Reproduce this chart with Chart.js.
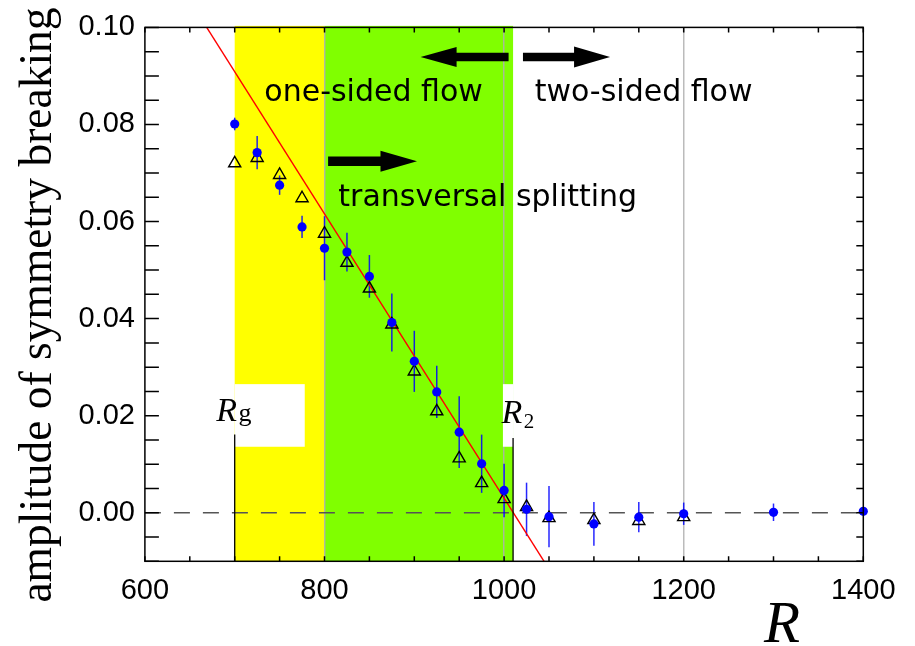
<!DOCTYPE html>
<html><head><meta charset="utf-8">
<script src="https://cdn.jsdelivr.net/npm/chart.js@4.4.0/dist/chart.umd.min.js"></script>
<style>html,body{margin:0;padding:0;background:#fff}</style>
</head><body>
<canvas id="c" width="915" height="646"></canvas>
<script>
// ---- data ----
const R_dots   = [700, 725, 750, 775, 800, 825, 850, 875, 900, 925, 950, 975, 1000, 1025, 1050, 1100, 1150, 1200, 1300, 1400];
const amp_dots = [0.0801, 0.0742, 0.0675, 0.0589, 0.0545, 0.0537, 0.0487, 0.0392, 0.0312, 0.0249, 0.0166, 0.0101, 0.0046, 0.0007, -0.0008, -0.0023, -0.0009, -0.0002, 0.0001, 0.0003];
const err_dots = [0.0013, 0.0034, 0.0020, 0.0023, 0.0066, 0.0040, 0.0044, 0.0060, 0.0063, 0.0054, 0.0074, 0.0060, 0.0055, 0.0055, 0.0063, 0.0045, 0.0031, 0.0023, 0.0018, 0];
const R_tri    = [700, 725, 750, 775, 800, 825, 850, 875, 900, 925, 950, 975, 1000, 1025, 1050, 1100, 1150, 1200];
const amp_tri  = [0.0720, 0.0731, 0.0696, 0.0648, 0.0575, 0.0515, 0.0462, 0.0388, 0.0291, 0.0209, 0.0112, 0.0061, 0.0028, 0.0012, -0.0011, -0.0015, -0.0017, -0.0009];
const R_fit    = [668.8, 1044.5];
const amp_fit  = [0.100, -0.010];
const xTicksMajor = [600, 800, 1000, 1200, 1400];
const yTicksMajor = [0.00, 0.02, 0.04, 0.06, 0.08, 0.10];
const bandFrom = [700, 800];
const bandTo   = [800, 1010];
const markR    = [700, 1010];
const markTop  = [0.0161, 0.0154];
const arrowFrom = [1005, 1021, 804];
const arrowTo   = [907, 1118, 903];
const arrowAmp  = [0.0939, 0.0939, 0.0724];
const noteText = ['one-sided flow', 'two-sided flow', 'transversal splitting'];
const noteR    = [733, 1034, 815.4];
const noteAmp  = [0.0849, 0.0849, 0.0631];
const xTitle = 'R';
const yTitle = 'amplitude of symmetry breaking';

const pts = (xs, ys) => xs.map((x, i) => ({x: x, y: ys[i]}));

const decor = {
  id: 'decor',
  beforeDraw(chart) {
    const {ctx, chartArea: ca, scales: {x, y}} = chart;
    ctx.save();
    const cols = ['#ffff00', '#80ff00'];
    for (let i = 0; i < bandFrom.length; i++) {
      const a = x.getPixelForValue(bandFrom[i]), b = x.getPixelForValue(bandTo[i]);
      ctx.fillStyle = cols[i];
      ctx.fillRect(a, ca.top - 1.5, b - a, ca.bottom - ca.top + 1.5);
    }
    ctx.restore();
  },
  beforeDatasetsDraw(chart) {
    const {ctx, chartArea: ca, scales: {x, y}} = chart;
    ctx.save();
    // white label boxes
    ctx.fillStyle = '#fff';
    const bx = [[700, 778], [998.7, 1010.5]];
    const t = y.getPixelForValue(0.0265), btm = y.getPixelForValue(0.0136);
    bx.forEach(([a, b]) => {
      const pa = x.getPixelForValue(a), pb = x.getPixelForValue(b);
      ctx.fillRect(pa, t, pb - pa, btm - t);
    });
    // dashed zero line
    ctx.strokeStyle = '#555';
    ctx.lineWidth = 1.3;
    ctx.setLineDash([16, 13]);
    const y0 = y.getPixelForValue(0);
    ctx.beginPath(); ctx.moveTo(ca.left, y0); ctx.lineTo(ca.right, y0); ctx.stroke();
    ctx.setLineDash([]);
    // error bars
    ctx.strokeStyle = 'rgba(0,0,255,0.85)';
    ctx.lineWidth = 1.5;
    for (let i = 0; i < R_dots.length; i++) {
      if (!err_dots[i]) continue;
      const px = x.getPixelForValue(R_dots[i]);
      ctx.beginPath();
      ctx.moveTo(px, y.getPixelForValue(amp_dots[i] - err_dots[i]));
      ctx.lineTo(px, y.getPixelForValue(amp_dots[i] + err_dots[i]));
      ctx.stroke();
    }
    ctx.restore();
  },
  afterDatasetsDraw(chart) {
    const {ctx, chartArea: ca, scales: {x, y}} = chart;
    ctx.save();
    // vertical marker lines
    ctx.strokeStyle = '#000';
    ctx.lineWidth = 1.3;
    for (let i = 0; i < markR.length; i++) {
      const px = x.getPixelForValue(markR[i]);
      ctx.beginPath(); ctx.moveTo(px, y.getPixelForValue(markTop[i])); ctx.lineTo(px, ca.bottom); ctx.stroke();
    }
    // arrows
    ctx.fillStyle = '#000';
    const shaft = [8.5, 8.5, 9.5], headH = [20, 21, 21], headL = [36, 36, 36.5];
    for (let i = 0; i < arrowFrom.length; i++) {
      const x0 = x.getPixelForValue(arrowFrom[i]), x1 = x.getPixelForValue(arrowTo[i]);
      const yc = y.getPixelForValue(arrowAmp[i]);
      const dir = Math.sign(x1 - x0);
      const hb = x1 - dir * headL[i];
      ctx.beginPath();
      ctx.moveTo(x0, yc - shaft[i] / 2);
      ctx.lineTo(hb, yc - shaft[i] / 2);
      ctx.lineTo(hb, yc - headH[i] / 2);
      ctx.lineTo(x1, yc);
      ctx.lineTo(hb, yc + headH[i] / 2);
      ctx.lineTo(hb, yc + shaft[i] / 2);
      ctx.lineTo(x0, yc + shaft[i] / 2);
      ctx.closePath();
      ctx.fill();
    }
    // notes
    ctx.font = '30px "DejaVu Sans"';
    ctx.textAlign = 'left';
    ctx.textBaseline = 'alphabetic';
    for (let i = 0; i < noteText.length; i++) {
      ctx.fillText(noteText[i], x.getPixelForValue(noteR[i]), y.getPixelForValue(noteAmp[i]));
    }
    // R_g and R_2 labels
    const lab = [[679.5, 0.01886, 'g', '26px "Liberation Serif"', 0], [997.2, 0.0185, '2', '21px "Liberation Serif"', 5]];
    lab.forEach(([rv, av, sub, subFont, dy]) => {
      const px = x.getPixelForValue(rv), py = y.getPixelForValue(av);
      ctx.font = 'italic 34px "Liberation Serif"';
      ctx.fillText('R', px, py);
      const w = ctx.measureText('R').width;
      ctx.font = subFont;
      ctx.fillText(sub, px + w + 1.5, py + dy);
    });
    // frame and inward ticks
    ctx.strokeStyle = '#000';
    ctx.lineWidth = 1.5;
    ctx.strokeRect(ca.left, ca.top, ca.right - ca.left, ca.bottom - ca.top);
    ctx.beginPath();
    x.ticks.forEach(tk => {
      const px = x.getPixelForValue(tk.value);
      ctx.moveTo(px, ca.bottom); ctx.lineTo(px, ca.bottom - 5);
      ctx.moveTo(px, ca.top); ctx.lineTo(px, ca.top + 5);
    });
    y.ticks.forEach(tk => {
      const py = y.getPixelForValue(tk.value);
      ctx.moveTo(ca.left, py); ctx.lineTo(ca.left + 14, py);
      ctx.moveTo(ca.right, py); ctx.lineTo(ca.right - 7, py);
    });
    ctx.stroke();
    // axis titles
    ctx.fillStyle = '#000';
    ctx.font = 'italic 59px "Liberation Serif"';
    ctx.fillText(xTitle, 764, 641.5);
    ctx.save();
    ctx.translate(51, 305);
    ctx.rotate(-Math.PI / 2);
    ctx.font = '45.5px "Liberation Serif"';
    ctx.textAlign = 'center';
    ctx.fillText(yTitle, 0, 0);
    ctx.restore();
    ctx.restore();
  }
};

new Chart(document.getElementById('c'), {
  type: 'scatter',
  data: {
    datasets: [
      {data: pts(R_dots, amp_dots), pointRadius: 4.6, pointHoverRadius: 4.6, backgroundColor: '#0000ff', borderWidth: 0, showLine: false, clip: false},
      {data: pts(R_tri, amp_tri), pointStyle: 'triangle', pointRadius: 7, pointHoverRadius: 7, borderColor: '#000', borderWidth: 1.4, backgroundColor: 'rgba(0,0,0,0)', showLine: false, clip: false},
      {data: pts(R_fit, amp_fit), showLine: true, pointRadius: 0, borderColor: '#ff0000', borderWidth: 1.4, backgroundColor: '#ff0000'}
    ]
  },
  options: {
    responsive: false,
    animation: false,
    devicePixelRatio: 1,
    layout: {padding: {top: 22.7, right: 51.7, bottom: 0, left: 0}},
    plugins: {legend: {display: false}, tooltip: {enabled: false}},
    scales: {
      x: {
        type: 'linear', min: 600, max: 1400,
        afterFit: s => { s.height = 84.7; },
        border: {display: false},
        grid: {
          drawTicks: false,
          lineWidth: 1.5,
          color: c => (c.tick && [800, 1000, 1200].includes(c.tick.value)) ? 'rgba(175,175,175,0.85)' : 'rgba(0,0,0,0)'
        },
        ticks: {
          stepSize: 50, autoSkip: false, maxRotation: 0, padding: 12, color: '#000',
          font: {family: '"Liberation Sans"', size: 29},
          callback: v => xTicksMajor.includes(v) ? String(v) : ''
        }
      },
      y: {
        type: 'linear', min: -0.01, max: 0.10,
        afterFit: s => { s.width = 144.9; },
        border: {display: false},
        grid: {display: false, drawTicks: false},
        ticks: {
          stepSize: 0.005, autoSkip: false, padding: 10, color: '#000',
          font: {family: '"Liberation Sans"', size: 29},
          callback: v => {
            const m = yTicksMajor.find(t => Math.abs(t - v) < 1e-6);
            return m === undefined ? '' : m.toFixed(2);
          }
        }
      }
    }
  },
  plugins: [decor]
});
</script>
</body></html>
